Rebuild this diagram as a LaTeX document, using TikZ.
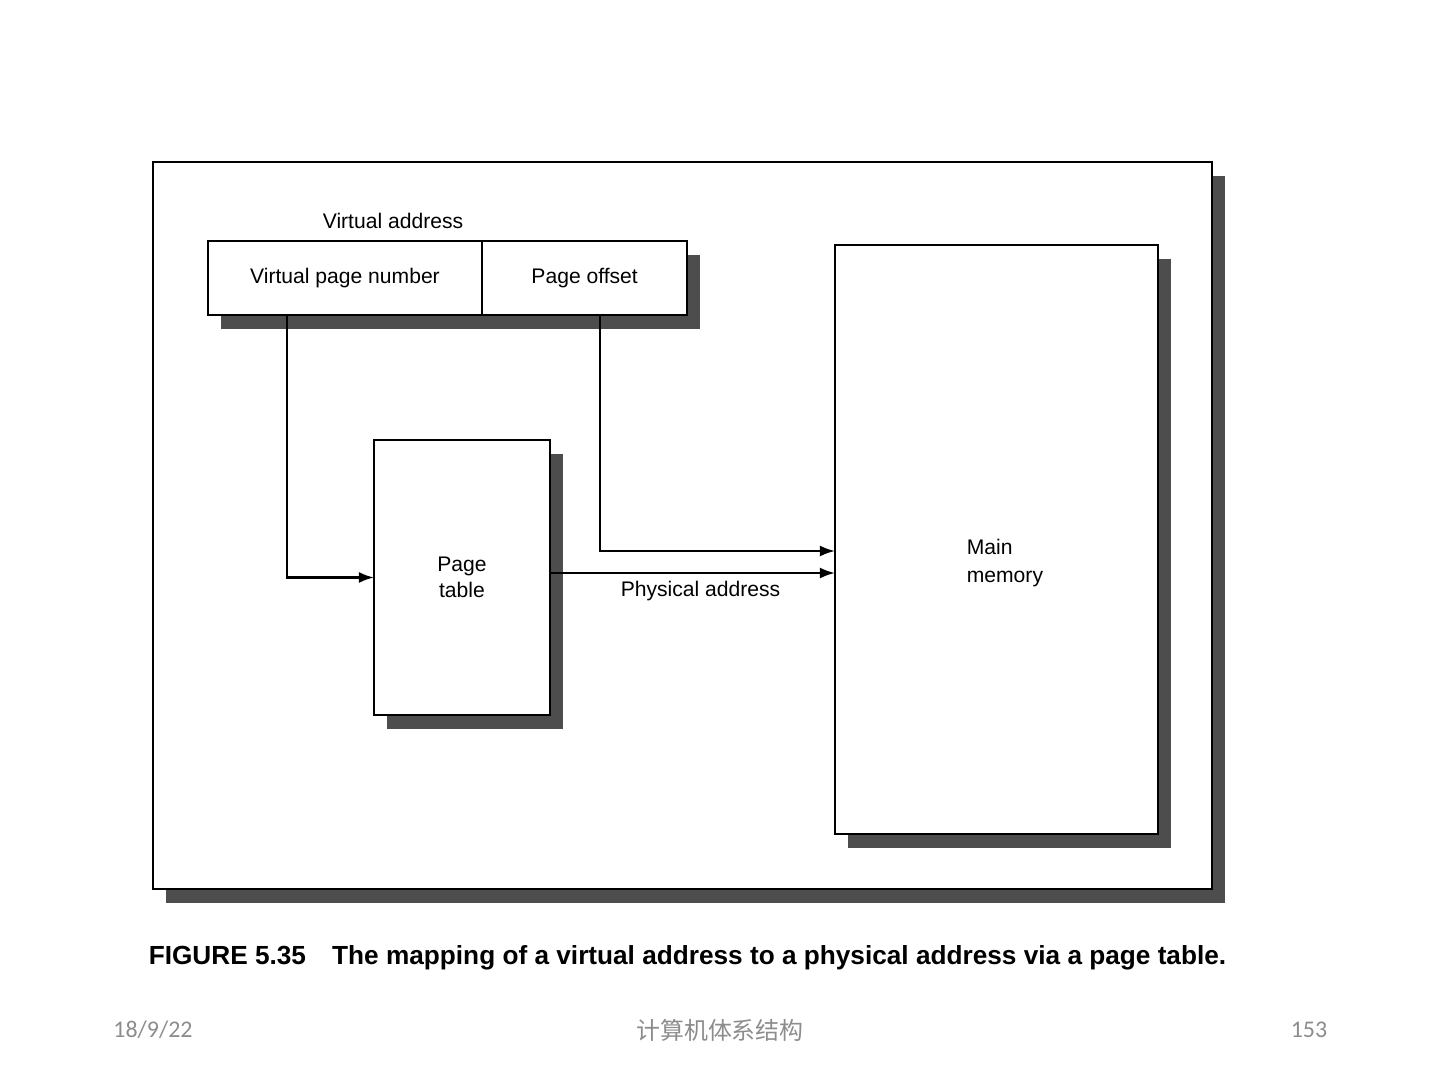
\documentclass[tikz,border=0pt]{standalone}
\usepackage{fontspec}
\setmainfont{Liberation Sans}
\newfontfamily\footfont{Carlito}
\newfontfamily\cjkfont{Noto Sans CJK SC}
\usepackage{tikz}
\usetikzlibrary{arrows.meta,positioning,shadows}
\definecolor{shadowgray}{HTML}{4D4D4D}
\definecolor{footgray}{HTML}{8C8C8C}

\begin{document}
\begin{tikzpicture}[
  x=0.01cm,y=-0.01cm,
  box/.style={draw,line width=0.6pt,fill=white,inner sep=0pt,outer sep=0pt,align=center,font=\fontsize{6}{7.4}\selectfont,
    drop shadow={shadow xshift=0.13cm,shadow yshift=-0.14cm,fill=shadowgray,opacity=1}},
  lbl/.style={font=\fontsize{6}{7.8}\selectfont,align=center},
  foot/.style={text=footgray,font=\footfont\fontsize{6.8}{8}\selectfont},
  arrow/.style={-{Latex[length=1.5mm,width=1.1mm]},line width=0.6pt}
]
\useasboundingbox (0,0) rectangle (1440,1080);
\node[box,minimum width=10.59cm,minimum height=7.27cm] (frame) at (682.5,525.5) {};
\node[box,minimum width=2.74cm,minimum height=0.74cm] (vpn) at (345,278) {Virtual page number};
\node[box,minimum width=2.05cm,minimum height=0.74cm,right=0pt of vpn] (off) {Page offset};
\node[lbl] (va) at (393,221) {Virtual address};
\node[box,minimum width=1.76cm,minimum height=2.75cm] (ptab) at (462,577.5) {Page\\table};
\node[box,minimum width=3.23cm,minimum height=5.89cm,
  label={[lbl,align=left,xshift=2.4pt,yshift=-6.7pt]center:Main\\memory}] (mem) at (996.5,539.5) {};
\coordinate (offin) at ([yshift=-0.115cm]mem.west);
\coordinate (phys) at ([yshift=-0.335cm]mem.west);
\draw[arrow] ([xshift=-0.58cm]vpn.south) |- (ptab.west);
\draw[arrow] ([xshift=0.155cm]off.south) |- (offin);
\draw[arrow] (ptab.east |- phys) -- node[lbl,below,xshift=2.3pt,inner sep=2pt]{Physical address} (phys);
\node[font=\bfseries\fontsize{7.45}{9}\selectfont] (cap) at (687.5,958) {FIGURE 5.35\hspace{1em}The mapping of a virtual address to a physical address via a page table.};
\node[foot] (date) at (153,1030) {18/9/22};
\node[foot,font=\cjkfont\fontsize{6.8}{8}\selectfont] (title) at (720,1030) {计算机体系结构};
\node[foot] (pg) at (1309,1030) {153};
\end{tikzpicture}
\end{document}
